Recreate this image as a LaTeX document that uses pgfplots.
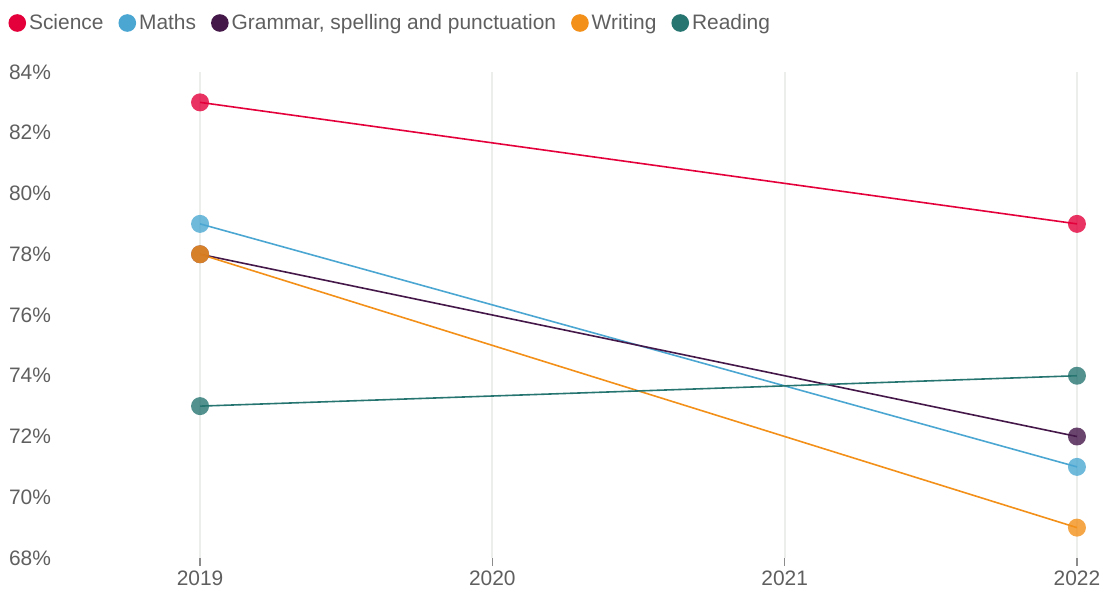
\documentclass[border=0pt]{standalone}
\usepackage{pgfplots}
\pgfplotsset{compat=1.18}
\usepackage{fontspec}
\setmainfont{Liberation Sans}
\definecolor{sci}{HTML}{E4003B}
\definecolor{mat}{HTML}{4BA7D2}
\definecolor{gra}{HTML}{45184A}
\definecolor{wri}{HTML}{F39019}
\definecolor{rea}{HTML}{277571}
\definecolor{txt}{HTML}{5F5F5F}
\definecolor{grd}{HTML}{EBEEEB}
\begin{document}
\begin{tikzpicture}
\begin{axis}[
  name=ax,
  scale only axis,
  width=520bp, height=243bp,
  xmin=2018.514, xmax=2022.072,
  ymin=68, ymax=84,
  clip=false,
  axis line style={draw=none},
  xtick={2019,2020,2021,2022},
  xticklabels={2019,2020,2021,2022},
  ytick={68,70,...,84},
  yticklabels={68\%,70\%,72\%,74\%,76\%,78\%,80\%,82\%,84\%},
  xtick pos=bottom,
  xmajorgrids,
  grid style={grd, line width=1bp},
  xtick align=outside,
  major tick length=4bp,
  x tick style={draw=black!45, line width=0.6bp},
  y tick style={draw=none},
  tick label style={font=\fontsize{10.5}{12}\selectfont, text=txt},
  yticklabel style={anchor=west, xshift=-28bp},
  xticklabel style={yshift=1bp},
  legend columns=5,
  legend style={draw=none, fill=none, inner sep=0pt,
    at={(-0.048,1.1008)}, anchor=west,
    font=\fontsize{10.5}{12}\selectfont, text=txt,
    nodes={inner sep=1.5bp},
    /tikz/every even column/.append style={column sep=6bp}},
  legend image code/.code={\fill[#1] (0bp,0bp) circle (4bp);},
  every axis plot/.append style={line width=0.8bp, mark=*, mark size=4.5bp,
    mark options={fill opacity=0.8, draw opacity=0}},
]
\addplot[color=sci] coordinates {(2019,83) (2022,79)};
\addlegendentry{Science}
\addplot[color=mat] coordinates {(2019,79) (2022,71)};
\addlegendentry{Maths}
\addplot[color=gra] coordinates {(2019,78) (2022,72)};
\addlegendentry{Grammar, spelling and punctuation}
\addplot[color=wri] coordinates {(2019,78) (2022,69)};
\addlegendentry{Writing}
\addplot[color=rea] coordinates {(2019,73) (2022,74)};
\addlegendentry{Reading}
\coordinate (sw) at (rel axis cs:0,0);
\coordinate (ne) at (rel axis cs:1,1);
\end{axis}
\pgfresetboundingbox
\path[use as bounding box] ([shift={(-29bp,-15.5bp)}]sw) rectangle ([shift={(1bp,36bp)}]ne);
\end{tikzpicture}
\end{document}
